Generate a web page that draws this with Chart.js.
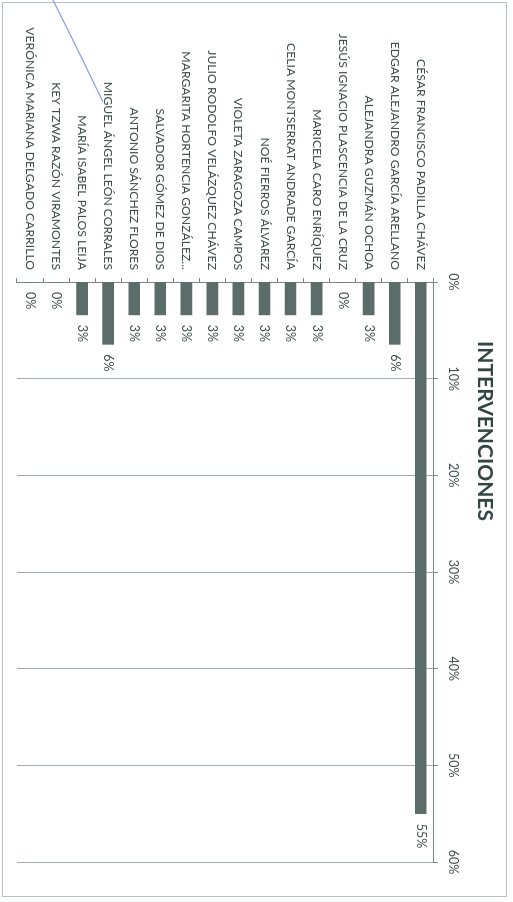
<!DOCTYPE html>
<html lang="es">
<head>
    <meta charset="UTF-8" />
    <meta name="viewport" content="width=device-width, initial-scale=1.0" />
    <title>Intervenciones</title>
    <script src="https://cdn.jsdelivr.net/npm/chart.js"></script>
    <style>
        html, body { margin: 0; padding: 0; background: #fff; }
        body { width: 513px; height: 902px; position: relative; overflow: hidden; }
        #frame { position: absolute; left: 2px; top: 2px; width: 505px; height: 895px; border: 1px solid #b7c1c0; box-sizing: border-box; }
        #turn { position: absolute; left: 0; top: 0; width: 902px; height: 513px; transform-origin: 0 0; transform: translate(513px, 0) rotate(90deg); }
        #pen { position: absolute; left: 0; top: 0; }
    </style>
</head>
<body>
    <div id="frame"></div>
    <div id="turn">
        <canvas id="chart" width="902" height="513"></canvas>
    </div>
    <svg id="pen" width="120" height="110">
        <path d="M53 0 Q78 50 103 102" stroke="#8ea2e8" stroke-width="1.3" fill="none" />
    </svg>

    <script>
        const names = [
            "CÉSAR FRANCISCO PADILLA CHÁVEZ",
            "EDGAR ALEJANDRO GARCÍA ARELLANO",
            "ALEJANDRA GUZMÁN OCHOA",
            "JESÚS IGNACIO PLASCENCIA DE LA CRUZ",
            "MARICELA CARO ENRÍQUEZ",
            "CELIA MONTSERRAT ANDRADE GARCÍA",
            "NOÉ FIERROS ÁLVAREZ",
            "VIOLETA ZARAGOZA CAMPOS",
            "JULIO RODOLFO VELÁZQUEZ CHÁVEZ",
            "MARGARITA HORTENCIA GONZÁLEZ...",
            "SALVADOR GÓMEZ DE DIOS",
            "ANTONIO SÁNCHEZ FLORES",
            "MIGUEL ÁNGEL LEÓN CORRALES",
            "MARÍA ISABEL PALOS LEIJA",
            "KEY TZWA RAZÓN VIRAMONTES",
            "VERÓNICA MARIANA DELGADO CARRILLO"
        ];
        // percent of interventions
        const values = [55, 6.45, 3.4, 0, 3.4, 3.4, 3.4, 3.4, 3.4, 3.4, 3.4, 3.4, 6.45, 3.4, 0, 0];
        const axisMin = 0;
        const axisMax = 60;
        const axisStep = 10;

        const textColor = "#3f4e4c";
        const barColor = "#5b6d69";
        const lineColor = "#7a8786";
        const gridColor = "#a2acab";
        const fontFamily = "Lato, 'Open Sans', sans-serif";

        // value labels after the end of each bar
        const barValueLabels = {
            id: "barValueLabels",
            afterDatasetsDraw(chart) {
                const ctx = chart.ctx;
                const meta = chart.getDatasetMeta(0);
                ctx.save();
                ctx.font = "12.5px " + fontFamily;
                ctx.fillStyle = textColor;
                ctx.textAlign = "left";
                ctx.textBaseline = "middle";
                meta.data.forEach((bar, i) => {
                    ctx.fillText(values[i].toFixed(0) + "%", bar.x + 10, bar.y);
                });
                ctx.restore();
            }
        };

        const chart = new Chart(document.getElementById("chart").getContext("2d"), {
            type: "bar",
            data: {
                labels: names,
                datasets: [{
                    data: values,
                    backgroundColor: barColor,
                    barThickness: 11,
                    borderWidth: 0
                }]
            },
            options: {
                indexAxis: "y",
                responsive: false,
                animation: false,
                layout: { padding: { top: 0, left: 0, right: 40, bottom: 17 } },
                plugins: {
                    legend: { display: false },
                    tooltip: { enabled: false },
                    title: {
                        display: true,
                        text: "INTERVENCIONES",
                        color: "#344644",
                        font: { family: fontFamily, size: 21, weight: "bold" },
                        padding: { top: 16, bottom: 0 }
                    }
                },
                scales: {
                    x: {
                        position: "top",
                        min: axisMin,
                        max: axisMax,
                        ticks: {
                            stepSize: axisStep,
                            color: textColor,
                            font: { family: fontFamily, size: 12.5 },
                            padding: 8,
                            callback: (v) => v + "%"
                        },
                        grid: { color: gridColor, tickColor: lineColor, tickLength: 4 },
                        border: { color: lineColor },
                        afterFit: (s) => { s.height = 38; }
                    },
                    y: {
                        ticks: {
                            color: textColor,
                            font: { family: fontFamily, size: 12.2 },
                            padding: 8
                        },
                        grid: { drawOnChartArea: false, tickColor: lineColor, tickLength: 4 },
                        border: { color: lineColor },
                        afterFit: (s) => { s.width = 282; }
                    }
                }
            },
            plugins: [barValueLabels]
        });
    </script>
</body>
</html>
